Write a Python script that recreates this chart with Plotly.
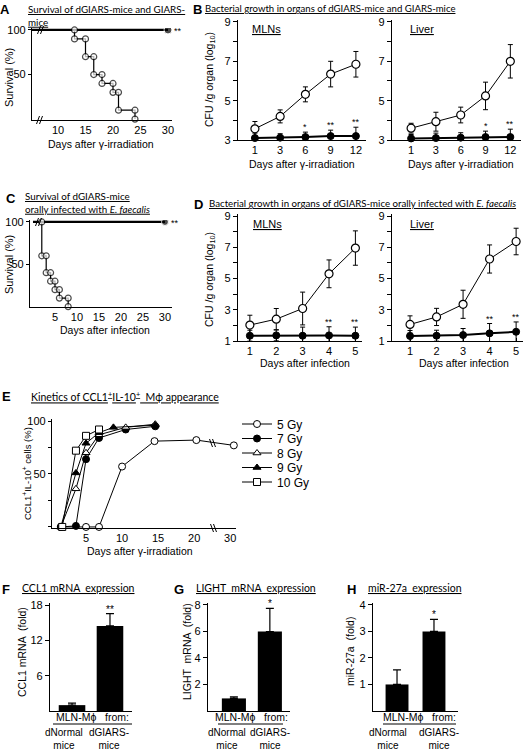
import plotly.graph_objects as go

W, H = 526, 750
FONT = "Liberation Sans"
TFONT = "Lato"

# ---------------- DATA ----------------
# A: survival after gamma-irradiation
A_days_dG = [0, 13, 13, 15, 15, 16.5, 16.5, 18, 18, 20, 20, 21, 21, 24, 24]
A_surv_dG = [100, 100, 90, 90, 70, 70, 50, 50, 40, 40, 30, 30, 10, 10, 0]
A_days_G = [0, 30]
A_surv_G = [100, 100]

# B: bacterial growth (log10 CFU/g), days after irradiation
B_days = ["1", "3", "6", "9", "12"]
B_mln_dG = [3.57, 4.2, 5.32, 6.35, 6.85]
B_mln_dG_err = [0.37, 0.33, 0.38, 0.65, 0.65]
B_mln_G = [3.1, 3.12, 3.15, 3.2, 3.2]
B_mln_G_err = [0.25, 0.2, 0.25, 0.3, 0.45]
B_mln_sig = ["", "", "*", "**", "**"]
B_liv_dG = [3.6, 3.93, 4.27, 5.24, 7.0]
B_liv_dG_err = [0.25, 0.48, 0.4, 0.7, 0.85]
B_liv_G = [3.08, 3.1, 3.12, 3.15, 3.15]
B_liv_G_err = [0.2, 0.25, 0.25, 0.3, 0.4]
B_liv_sig = ["", "", "", "*", "**"]

# C: survival after oral infection
C_days_dG = [0, 2, 2, 3, 3, 4, 4, 5, 5, 6, 6, 8, 8]
C_surv_dG = [100, 100, 60, 60, 40, 40, 30, 30, 20, 20, 10, 10, 0]
C_days_G = [0, 30]
C_surv_G = [100, 100]

# D: bacterial growth after infection
D_days = [1, 2, 3, 4, 5]
D_mln_dG = [2.02, 2.4, 3.08, 5.3, 6.95]
D_mln_dG_err = [0.63, 0.68, 1.05, 0.89, 1.1]
D_mln_G = [1.34, 1.36, 1.34, 1.36, 1.34]
D_mln_G_err = [0.35, 0.35, 0.55, 0.55, 0.55]
D_mln_sig = ["", "", "", "**", "**"]
D_liv_dG = [2.06, 2.54, 3.35, 6.25, 7.37]
D_liv_dG_err = [0.55, 0.55, 0.9, 0.9, 0.85]
D_liv_G = [1.32, 1.34, 1.38, 1.49, 1.59]
D_liv_G_err = [0.35, 0.35, 0.42, 0.63, 0.63]
D_liv_sig = ["", "", "", "**", "**"]

# E: kinetics of CCL1+IL-10+ Mphi appearance (real days)
E_series = ["5 Gy", "7 Gy", "8 Gy", "9 Gy", "10 Gy"]
E_days_5 = [1.5, 5, 6.8, 10, 14.5, 20.3, 30.5]
E_vals_5 = [0, 0, 0, 57, 81, 82, 77]
E_days_7 = [1.5, 3.6, 5, 6.8, 10.5, 14.6]
E_vals_7 = [0, 1, 64, 84, 92, 95]
E_days_8 = [1.5, 3.6, 5, 6.8, 10.5, 14.6]
E_vals_8 = [0, 36, 70, 87, 94, 97]
E_days_9 = [1.5, 3.6, 5, 6.8, 8.8, 14.6]
E_vals_9 = [0, 51, 79, 89, 94, 96]
E_days_10 = [1.7, 3.6, 5, 6.8]
E_vals_10 = [0, 72, 86, 92]
E_ticks = [5, 10, 15, 20, 30]

# F, G, H: expression in MLN-Mphi
groups = ["dNormal<br>mice", "dGIARS-<br>mice"]
F_vals = [1.0, 14.5]
F_err = [0.35, 2.1]
G_vals = [0.95, 6.0]
G_err = [0.12, 1.75]
H_vals = [1.0, 3.0]
H_err = [0.55, 0.45]
FGH_sig = ["**", "*", "*"]


# ---------------- helpers ----------------
def xd(a, b):
    return [a / W, b / W]


def yd(top, bot):
    return [1 - bot / H, 1 - top / H]


def px(x):
    return x / W


def py(y):
    return 1 - y / H


def E_disp(d):
    # broken axis: days beyond the break are shifted left by 5
    return d if d <= 22.5 else d - 5


fig = go.Figure()
annos = []
shapes = []

axis_common = dict(showline=True, linecolor="black", linewidth=1.2, ticks="outside",
                   ticklen=4, tickwidth=1, tickcolor="black", showgrid=False,
                   zeroline=False, tickfont=dict(family=FONT, size=11, color="black"),
                   fixedrange=True, automargin=False)

layout_axes = {}


def add_axes(n, xdom, ydom, xr, yr, xkw=None, ykw=None):
    sx = "" if n == 1 else str(n)
    xa = dict(axis_common, domain=xdom, range=xr, anchor="y" + sx)
    ya = dict(axis_common, domain=ydom, range=yr, anchor="x" + sx)
    if xkw:
        xa.update(xkw)
    if ykw:
        ya.update(ykw)
    layout_axes["xaxis" + sx] = xa
    layout_axes["yaxis" + sx] = ya
    return "x" + sx, "y" + sx


def text(x, y, s, size=11, family=FONT, xanchor="center", yanchor="middle", angle=0, align="center"):
    annos.append(dict(x=px(x), y=py(y), xref="paper", yref="paper", text=s, showarrow=False,
                      xanchor=xanchor, yanchor=yanchor, textangle=angle, align=align,
                      font=dict(family=family, size=size, color="black")))


def brk(x, y, slope=1, h=4, gap=3):
    for dx in (0, gap):
        shapes.append(dict(type="line", xref="paper", yref="paper",
                           x0=px(x + dx - 1.5 * slope), y0=py(y - h),
                           x1=px(x + dx + 1.5 * slope), y1=py(y + h),
                           line=dict(color="black", width=1)))


def hline(x0, x1, y, w=1):
    shapes.append(dict(type="line", xref="paper", yref="paper", x0=px(x0), x1=px(x1),
                       y0=py(y), y1=py(y), line=dict(color="black", width=w)))


open_m = dict(symbol="circle", color="white", size=8, line=dict(color="black", width=1.2))
fill_m = dict(symbol="circle", color="black", size=7, line=dict(color="black", width=1))

# ---------------- A ----------------
xa, ya = add_axes(1, xd(32, 172), yd(28, 120), [5.27, 30.73], [-1, 102.2],
                  xkw=dict(tickvals=[10, 15, 20, 25, 30], ticks=""),
                  ykw=dict(tickvals=[50, 100], ticklen=3))
fig.add_trace(go.Scatter(x=A_days_G, y=A_surv_G, xaxis=xa, yaxis=ya, mode="lines+markers",
                         line=dict(color="black", width=2.2),
                         marker=dict(color="black", size=[0, 8]), showlegend=False))
fig.add_trace(go.Scatter(x=A_days_dG, y=A_surv_dG, xaxis=xa, yaxis=ya, mode="lines+markers",
                         line=dict(color="black", width=1.2),
                         marker=dict(symbol="circle", color="white", size=[0] + [6] * 14,
                                     line=dict(color="black", width=1.2)),
                         showlegend=False, cliponaxis=False))
annos.append(dict(x=30, y=100, xref=xa, yref=ya, text="**", showarrow=False, xanchor="left",
                  xshift=4, yshift=-1, font=dict(family=FONT, size=9, color="black")))
brk(39, 30, slope=-1)
brk(38, 120, slope=-1)
text(5, 9, "<b>A</b>", size=13)
text(26, 15, "<u>Survival of dGIARS-mice and GIARS-</u><br><u>mice</u>", size=9.8, family=TFONT,
     xanchor="left", align="left")
text(9, 78, "Survival (%)", size=11, angle=-90)
text(101, 144, "Days after γ-irradiation", size=10.5)

# ---------------- B ----------------
def growth_panel(n, xdom, ydom, xr, yr, xvals, dG, dGe, G, Ge, sig, yt, ytext, ticklabels=None):
    xkw = dict(tickvals=list(range(len(xvals))) if ticklabels else xvals,
               ticktext=ticklabels if ticklabels else None, ticks="inside", ticklen=3)
    ykw = dict(tickvals=yt, ticktext=ytext, ticklen=4)
    xa, ya = add_axes(n, xdom, ydom, xr, yr, xkw=xkw, ykw=ykw)
    xs = list(range(len(xvals))) if ticklabels else xvals
    fig.add_trace(go.Scatter(x=xs, y=G, xaxis=xa, yaxis=ya, mode="lines+markers",
                             line=dict(color="black", width=2),
                             error_y=dict(type="data", array=Ge, color="black", thickness=1, width=2.5),
                             marker=fill_m, showlegend=False, cliponaxis=False))
    fig.add_trace(go.Scatter(x=xs, y=dG, xaxis=xa, yaxis=ya, mode="lines+markers",
                             line=dict(color="black", width=1),
                             error_y=dict(type="data", array=dGe, color="black", thickness=1, width=2.5),
                             marker=open_m, showlegend=False, cliponaxis=False))
    for xi, v, e, s in zip(xs, G, Ge, sig):
        if s:
            annos.append(dict(x=xi, y=v + e, xref=xa, yref=ya, text=s, showarrow=False,
                              yanchor="bottom", yshift=-2, font=dict(family=FONT, size=9, color="black")))
    return xa, ya


B_yt = [3, 4, 5, 6, 7, 8, 9]
B_ytext = ["3", "", "5", "", "7", "", "9"]
growth_panel(2, xd(238, 366), yd(20, 140), [-0.67, 4.4], [3, 9.1], B_days,
             B_mln_dG, B_mln_dG_err, B_mln_G, B_mln_G_err, B_mln_sig, B_yt, B_ytext, ticklabels=B_days)
growth_panel(3, xd(392, 521), yd(20, 140), [-0.77, 4.43], [3, 9.1], B_days,
             B_liv_dG, B_liv_dG_err, B_liv_G, B_liv_G_err, B_liv_sig, B_yt, B_ytext, ticklabels=B_days)
text(197, 9, "<b>B</b>", size=13)
text(203, 8, "<u>Bacterial growth in organs of dGIARS-mice and GIARS-mice</u>", size=9.6,
     family=TFONT, xanchor="left")
text(250, 29, "<u>MLNs</u>", size=11, xanchor="left")
text(408, 29, "<u>Liver</u>", size=11, xanchor="left")
text(210, 80, "CFU /g organ (log<sub>10</sub>)", size=10.5, angle=-90)
text(302, 164, "Days after γ-irradiation", size=10.5)
text(461, 164, "Days after γ-irradiation", size=10.5)

# ---------------- C ----------------
xa, ya = add_axes(4, xd(30, 172), yd(220, 307), [-0.68, 31.6], [-0.5, 102.3],
                  xkw=dict(tickvals=[5, 10, 15, 20, 25, 30], ticks=""),
                  ykw=dict(tickvals=[50, 100], ticklen=3))
fig.add_trace(go.Scatter(x=C_days_G, y=C_surv_G, xaxis=xa, yaxis=ya, mode="lines+markers",
                         line=dict(color="black", width=2.2),
                         marker=dict(color="black", size=[0, 7]), showlegend=False))
fig.add_trace(go.Scatter(x=C_days_dG, y=C_surv_dG, xaxis=xa, yaxis=ya, mode="lines+markers",
                         line=dict(color="black", width=1.2),
                         marker=dict(symbol="circle", color="white",
                                     size=[0] + [6] * (len(C_days_dG) - 1),
                                     line=dict(color="black", width=1.2)),
                         showlegend=False, cliponaxis=False))
annos.append(dict(x=30, y=100, xref=xa, yref=ya, text="**", showarrow=False, xanchor="left",
                  xshift=4, yshift=-1, font=dict(family=FONT, size=9, color="black")))
brk(37, 222, slope=-1)
text(11, 199, "<b>C</b>", size=13)
text(23, 203, "<u>Survival of dGIARS-mice</u><br><u>orally infected with <i>E. faecalis</i></u>",
     size=9.8, family=TFONT, xanchor="left", align="left")
text(9, 265, "Survival (%)", size=11, angle=-90)
text(105, 330, "Days after infection", size=10.5)

# ---------------- D ----------------
D_yt = [1, 2, 3, 4, 5, 6, 7, 8, 9]
D_ytext = ["1", "", "3", "", "5", "", "7", "", "9"]
growth_panel(5, xd(238, 362), yd(214, 341), [0.55, 5.25], [1, 9.13], D_days,
             D_mln_dG, D_mln_dG_err, D_mln_G, D_mln_G_err, D_mln_sig, D_yt, D_ytext)
growth_panel(6, xd(392, 523), yd(214, 341), [0.32, 5.26], [1, 9.13], D_days,
             D_liv_dG, D_liv_dG_err, D_liv_G, D_liv_G_err, D_liv_sig, D_yt, D_ytext)
text(198, 204, "<b>D</b>", size=13)
text(207, 203, "<u>Bacterial growth in organs of dGIARS-mice orally infected with <i>E. faecalis</i></u>",
     size=9.7, family=TFONT, xanchor="left")
text(251, 224, "<u>MLNs</u>", size=11, xanchor="left")
text(408, 224, "<u>Liver</u>", size=11, xanchor="left")
text(210, 280, "CFU /g organ (log<sub>10</sub>)", size=10.5, angle=-90)
text(305, 363, "Days after infection", size=10.5)
text(464, 363, "Days after infection", size=10.5)

# ---------------- E ----------------
xa, ya = add_axes(7, xd(52, 236), yd(419, 528), [0.28, 25.8], [-1, 101.9],
                  xkw=dict(tickvals=[E_disp(t) for t in E_ticks], ticktext=[str(t) for t in E_ticks],
                           ticks=""),
                  ykw=dict(tickvals=[0, 25, 50, 75, 100], ticktext=["", "", "50", "", "100"], ticklen=3))
E_data = [(E_days_5, E_vals_5), (E_days_7, E_vals_7), (E_days_8, E_vals_8),
          (E_days_9, E_vals_9), (E_days_10, E_vals_10)]
E_markers = [dict(symbol="circle", color="white", size=7, line=dict(color="black", width=1)),
             dict(symbol="circle", color="black", size=7, line=dict(color="black", width=1)),
             dict(symbol="triangle-up", color="white", size=7, line=dict(color="black", width=1)),
             dict(symbol="triangle-up", color="black", size=7, line=dict(color="black", width=1)),
             dict(symbol="square", color="white", size=7, line=dict(color="black", width=1))]
for i, (name, (d, v), m) in enumerate(zip(E_series, E_data, E_markers)):
    lg = "legend" if i == 0 else "legend%d" % (i + 1)
    fig.add_trace(go.Scatter(x=[E_disp(t) for t in d], y=v, xaxis=xa, yaxis=ya, name=name,
                             mode="lines+markers", line=dict(color="black", width=1),
                             marker=m, cliponaxis=False, legend=lg, showlegend=True))
brk(212, 528, slope=1)
brk(211, 443, slope=1)
text(6, 396, "<b>E</b>", size=13)
text(29, 396, "<u>Kinetics of CCL1<sup>+</sup>IL-10<sup>+</sup>  Mϕ appearance</u>", size=10.5,
     family=TFONT, xanchor="left")
text(27, 474, "CCL1<sup>+</sup>IL-10<sup>+</sup> cells (%)", size=9.5, angle=-90)
text(140, 551, "Days after γ-irradiation", size=10.5)

legends = {}
for i in range(5):
    key = "legend" if i == 0 else "legend%d" % (i + 1)
    legends[key] = dict(x=px(237), y=py(424 + i * 14.5), xanchor="left", yanchor="middle",
                        bgcolor="rgba(0,0,0,0)", borderwidth=0, itemwidth=30,
                        font=dict(family=FONT, size=12, color="black"))


# ---------------- F, G, H ----------------
def bar_panel(n, xdom, xr, ymax, vals, errs, yt, sig, width):
    xa, ya = add_axes(n, xdom, yd(603, 711), xr, [0, ymax],
                      xkw=dict(tickvals=[], ticks="", showticklabels=False),
                      ykw=dict(tickvals=yt, ticklen=4))
    xs = list(range(len(groups)))
    fig.add_trace(go.Bar(x=xs, y=vals, xaxis=xa, yaxis=ya, width=width,
                         marker=dict(color="black", line=dict(width=0)),
                         error_y=dict(type="data", array=errs, arrayminus=[0] * len(errs),
                                      symmetric=False, color="black", thickness=1.2, width=4),
                         showlegend=False))
    annos.append(dict(x=xs[1], y=vals[1] + errs[1], xref=xa, yref=ya, text=sig, showarrow=False,
                      yanchor="bottom", yshift=-3, font=dict(family=FONT, size=10, color="black")))
    return xa, ya


bar_panel(8, xd(50, 132), [-0.58, 1.58], 18.4, F_vals, F_err, [6, 12, 18], FGH_sig[0], 0.7)
bar_panel(9, xd(208, 290), [-0.72, 1.56], 8.15, G_vals, G_err, [2, 4, 6, 8], FGH_sig[1], 0.67)
bar_panel(10, xd(373, 458), [-0.65, 1.65], 4.07, H_vals, H_err, [1, 2, 3, 4], FGH_sig[2], 0.62)

text(6, 589, "<b>F</b>", size=13)
text(20, 588, "<u>CCL1 mRNA  expression</u>", size=10.5, family=TFONT, xanchor="left")
text(179, 589, "<b>G</b>", size=13)
text(194, 588, "<u>LIGHT  mRNA  expression</u>", size=10.5, family=TFONT, xanchor="left")
text(351, 589, "<b>H</b>", size=13)
text(366, 588, "<u>miR-27a  expression</u>", size=10.5, family=TFONT, xanchor="left")

text(22, 652, "CCL1 mRNA  (fold)", size=10.5, angle=-90)
text(187, 652, "LIGHT  mRNA  (fold)", size=10.5, angle=-90)
text(350, 652, "miR-27a  (fold)", size=10.5, angle=-90)

for (cx, c0, c1, l0, l1) in [(92, 64, 109, 53, 132), (251, 227, 270, 218, 283), (419, 388, 439, 383, 456)]:
    text(cx, 717, "MLN-Mϕ   from:", size=10.5)
    hline(l0, l1, 724)
    text(c0, 739, groups[0], size=10)
    text(c1, 739, groups[1], size=10)

fig.update_layout(width=W, height=H, margin=dict(l=0, r=0, t=0, b=0, autoexpand=False),
                  paper_bgcolor="white", plot_bgcolor="white",
                  font=dict(family=FONT, color="black"),
                  annotations=annos, shapes=shapes, showlegend=True, **layout_axes, **legends)

fig.write_html("out.html", config={"displayModeBar": False},
               post_script="document.body.style.margin='0px';")
